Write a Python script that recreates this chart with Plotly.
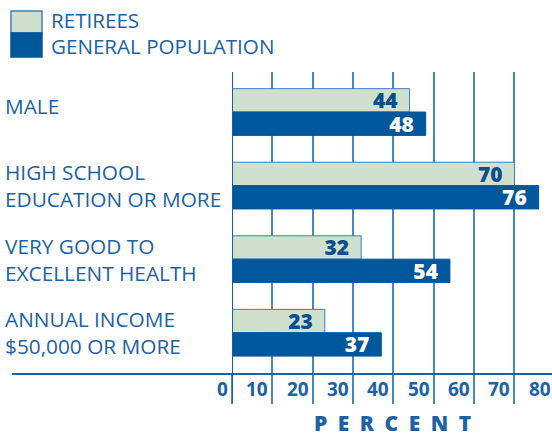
import plotly.graph_objects as go

categories = ["MALE", "HIGH SCHOOL<br>EDUCATION OR MORE", "VERY GOOD TO<br>EXCELLENT HEALTH",
              "ANNUAL INCOME<br>$50,000 OR MORE"]
retirees = [44, 70, 32, 23]
general = [48, 76, 54, 37]
tick_vals = [0, 10, 20, 30, 40, 50, 60, 70, 80]
series_names = ["RETIREES", "GENERAL POPULATION"]

W, H = 552, 436
ML, MR, MT, MB = 232, 0, 72, 62
PW, PH = W - ML - MR, H - MT - MB
X_RANGE = [0, 79.3]

def px(x):
    return (x - ML) / PW

def py(y):
    return (H - MB - y) / PH

def xdata_to_paper(v):
    return (v - X_RANGE[0]) / (X_RANGE[1] - X_RANGE[0])

DARK = "#00579B"
LIGHT = "#CFE1CE"
TEXT = "#1D62A4"
GRID = "#4A87BD"
FONT = "Open Sans"

fig = go.Figure()
fig.add_trace(go.Bar(
    y=categories, x=retirees, orientation="h", name=series_names[0],
    marker=dict(color=LIGHT, line=dict(color="#3F7FB8", width=1)),
    texttemplate="%{x}\u00a0\u2009", textposition="inside", insidetextanchor="end",
    textangle=0, constraintext="none",
    insidetextfont=dict(family=FONT, size=21, color="#0B4F8E", weight=800),
))
fig.add_trace(go.Bar(
    y=categories, x=general, orientation="h", name=series_names[1],
    marker=dict(color=DARK, line=dict(color=DARK, width=1)),
    texttemplate="%{x}\u00a0\u2009", textposition="inside", insidetextanchor="end",
    textangle=0, constraintext="none",
    insidetextfont=dict(family=FONT, size=21, color="white", weight=800),
))

annotations = []
for i, c in enumerate(categories):
    annotations.append(dict(
        x=px(3), xref="paper", y=i, yref="y", text=c, showarrow=False,
        xanchor="left", yanchor="middle", align="left",
        yshift=6 if "<br>" not in c else 0,
        font=dict(family=FONT, size=20.8, color=TEXT),
    ))
for v in tick_vals:
    annotations.append(dict(
        x=xdata_to_paper(v), xref="paper", y=py(389), yref="paper", text=str(v), showarrow=False,
        xanchor="right", yanchor="middle", xshift=-2,
        font=dict(family=FONT, size=19, color=TEXT, weight=700),
    ))
annotations.append(dict(
    x=px(392), xref="paper", y=py(423), yref="paper",
    text="\u2002".join("PERCENT"), showarrow=False, xanchor="center", yanchor="middle",
    font=dict(family=FONT, size=21, color=TEXT, weight=800),
))
for name, yc in zip(series_names, [20, 46]):
    annotations.append(dict(
        x=px(49), xref="paper", y=py(yc), yref="paper", text=name, showarrow=False,
        xanchor="left", yanchor="middle",
        font=dict(family=FONT, size=20.6, color=TEXT),
    ))

shapes = [
    dict(type="rect", xref="paper", yref="paper", x0=px(11), x1=px(42), y0=py(33), y1=py(11),
         fillcolor=LIGHT, line=dict(color="#3F7FB8", width=1.5)),
    dict(type="rect", xref="paper", yref="paper", x0=px(11), x1=px(42), y0=py(57), y1=py(33),
         fillcolor=DARK, line=dict(color=DARK, width=1.5)),
    dict(type="line", xref="paper", yref="paper", x0=px(12), x1=1, y0=py(374), y1=py(374),
         line=dict(color="#1E62A6", width=2)),
    dict(type="line", xref="x", yref="paper", x0=0, x1=0, y0=py(403), y1=1,
         line=dict(color="#1E5E9E", width=2)),
]

fig.update_layout(
    width=W, height=H, margin=dict(l=ML, r=MR, t=MT, b=MB, pad=0),
    paper_bgcolor="white", plot_bgcolor="white",
    barmode="group", bargap=0.365, bargroupgap=0, showlegend=False,
    annotations=annotations, shapes=shapes,
    xaxis=dict(range=X_RANGE, tickvals=tick_vals, showticklabels=False,
               showgrid=True, gridcolor=GRID, gridwidth=2, zeroline=False,
               ticks="outside", ticklen=29, tickwidth=2, tickcolor=GRID, showline=False),
    yaxis=dict(range=[3.561, -0.544], showticklabels=False, showgrid=False,
               zeroline=False, ticks="", showline=False),
)
fig.write_html("out.html")
